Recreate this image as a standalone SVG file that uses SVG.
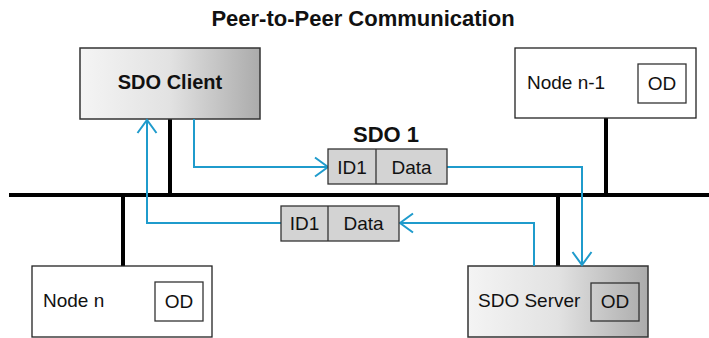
<svg xmlns="http://www.w3.org/2000/svg" width="709" height="338" viewBox="0 0 709 338">
<defs>
<linearGradient id="g" x1="0" y1="0" x2="1" y2="0">
<stop offset="0" stop-color="#f4f4f4"/>
<stop offset="0.5" stop-color="#e2e2e2"/>
<stop offset="1" stop-color="#ababab"/>
</linearGradient>
<marker id="arr" viewBox="0 0 16 22" refX="14" refY="11" markerWidth="16" markerHeight="22" markerUnits="userSpaceOnUse" orient="auto">
<path d="M1,1.5 L14,11 L1,20.5" fill="none" stroke="#1f9bcc" stroke-width="2"/>
</marker>
</defs>
<style>
text{font-family:"Liberation Sans",Arial,sans-serif;fill:#111}
.b{font-weight:bold}
.t{font-size:19px}
.c{text-anchor:middle}
.node{fill:#fff;stroke:#222;stroke-width:1.3}
.grad{fill:url(#g);stroke:#333;stroke-width:1.5}
.od{fill:none;stroke:#333;stroke-width:1.3}
.pkt{fill:#d3d3d3;stroke:#333;stroke-width:1.3}
.bus{stroke:#000;stroke-width:4;fill:none}
.con{stroke:#1f9bcc;stroke-width:2;fill:none}
</style>
<text x="363" y="26" class="b c" font-size="22">Peer-to-Peer Communication</text>
<g id="bus">
<line class="bus" x1="9" y1="195" x2="709" y2="195"/>
<line class="bus" x1="170" y1="119" x2="170" y2="195"/>
<line class="bus" x1="606" y1="118" x2="606" y2="195"/>
<line class="bus" x1="123" y1="195" x2="123" y2="266"/>
<line class="bus" x1="558" y1="195" x2="558" y2="266"/>
</g>
<g id="sdo-client">
<rect class="grad" x="80" y="48" width="180" height="71"/>
<text x="170" y="89" class="b c" font-size="20">SDO Client</text>
</g>
<g id="node-n-1">
<rect class="node" x="515" y="48" width="181" height="70"/>
<text x="527" y="89" class="t">Node n-1</text>
<rect class="od" x="638" y="64" width="48" height="39"/>
<text x="662" y="90" class="t c">OD</text>
</g>
<g id="node-n">
<rect class="node" x="32" y="266" width="180" height="71"/>
<text x="43" y="307" class="t">Node n</text>
<rect class="od" x="155" y="282" width="48" height="39"/>
<text x="179" y="308" class="t c">OD</text>
</g>
<g id="sdo-server">
<rect class="grad" x="468" y="266" width="180" height="71"/>
<text x="478" y="307" class="t">SDO Server</text>
<rect class="od" x="591" y="283" width="48" height="38"/>
<text x="615" y="308" class="t c">OD</text>
</g>
<g id="connectors">
<polyline class="con" points="194,119 194,167 328,167" marker-end="url(#arr)"/>
<polyline class="con" points="447,167 582,167 582,265" marker-end="url(#arr)"/>
<polyline class="con" points="534,266 534,223 400,223" marker-end="url(#arr)"/>
<polyline class="con" points="281,223 147,223 147,120" marker-end="url(#arr)"/>
</g>
<g id="sdo1">
<text x="386" y="142" class="b c" font-size="22">SDO 1</text>
<rect class="pkt" x="328" y="149" width="119" height="35"/>
<line x1="376" y1="149" x2="376" y2="184" stroke="#333" stroke-width="1.3"/>
<text x="352" y="174" class="t c">ID1</text>
<text x="411.5" y="174" class="t c">Data</text>
</g>
<g id="sdo1-reply">
<rect class="pkt" x="281" y="206" width="118" height="35"/>
<line x1="328" y1="206" x2="328" y2="241" stroke="#333" stroke-width="1.3"/>
<text x="304.5" y="230" class="t c">ID1</text>
<text x="363.5" y="230" class="t c">Data</text>
</g>
</svg>
